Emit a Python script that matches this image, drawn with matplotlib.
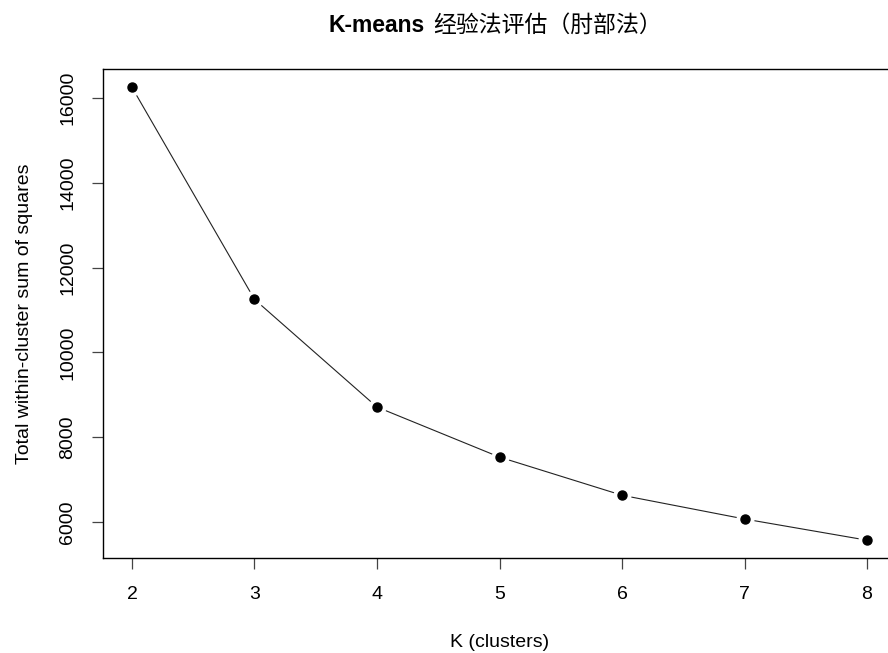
import matplotlib
matplotlib.use("Agg")
import matplotlib.pyplot as plt

plt.rcParams['font.family'] = ['Liberation Sans', 'Noto Sans CJK SC', 'DejaVu Sans']

k_values = [2, 3, 4, 5, 6, 7, 8]
wss = [16250, 11250, 8710, 7530, 6630, 6070, 5570]
y_ticks = [6000, 8000, 10000, 12000, 14000, 16000]

fig = plt.figure(figsize=(8.88, 6.53), dpi=100)
ax = fig.add_axes([0.1155, 0.145, 0.894, 0.749])

# type="b" style: line with gaps around the points
ax.plot(k_values, wss, color='#222222', linewidth=0.8, zorder=1)
ax.plot(k_values, wss, 'o', color='white', markersize=12, zorder=2)
ax.plot(k_values, wss, 'o', color='black', markersize=6.5, zorder=3)

pad_x = (max(k_values) - min(k_values)) * 0.04
pad_y = (max(wss) - min(wss)) * 0.04
ax.set_xlim(min(k_values) - pad_x, max(k_values) + pad_x)
ax.set_ylim(min(wss) - pad_y, max(wss) + pad_y)

ax.set_xticks(k_values)
ax.set_yticks(y_ticks)
ax.set_yticklabels([str(v) for v in y_ticks], rotation=90, va='center')
ax.tick_params(axis='both', direction='out', length=8, width=0.9, color='#444444',
               labelsize=14)
ax.tick_params(axis='x', pad=12)
ax.tick_params(axis='y', pad=11)

for s in ax.spines.values():
    s.set_linewidth(1.0)
    s.set_color('black')

ax.set_xlabel('K (clusters)', fontsize=14, labelpad=22)
ax.set_ylabel('Total within-cluster sum of squares', fontsize=14, labelpad=19)

# title: bold latin part, regular CJK part
fig.text(425 / 888, 1 - 25 / 653, 'K-means', ha='right', va='center',
         fontsize=16.5, fontweight='bold')
fig.text(433 / 888, 1 - 25 / 653, '经验法评估（肘部法）', ha='left', va='center',
         fontsize=16.5, family=['Noto Sans CJK SC', 'DejaVu Sans'])

fig.savefig('out.png', dpi=100)
